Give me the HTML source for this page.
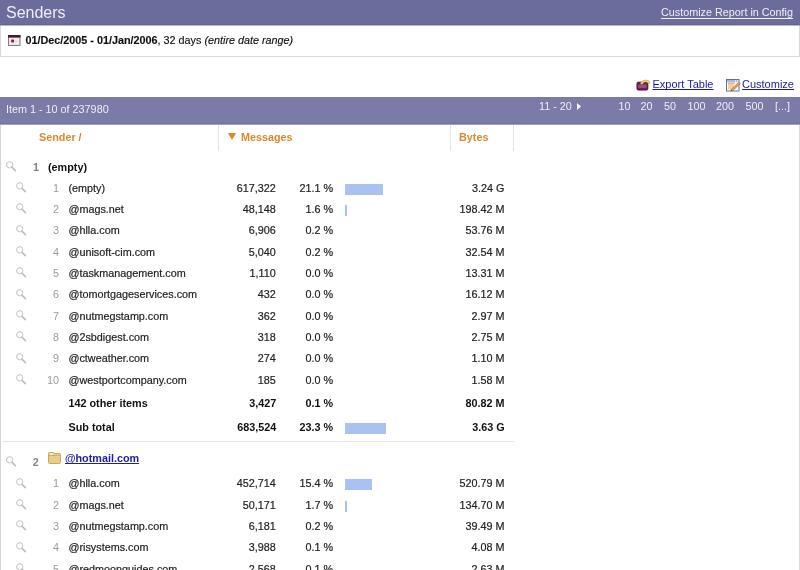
<!DOCTYPE html>
<html><head><meta charset="utf-8"><style>
html,body{-webkit-font-smoothing:antialiased;margin:0;padding:0;background:#fff;width:800px;height:570px;overflow:hidden;position:relative;font-family:"Liberation Sans",sans-serif;font-size:11px}
.t{position:absolute;white-space:nowrap;line-height:13px;font-size:10.8px}
.d{color:#222;-webkit-text-stroke:0.2px #222}
.n{color:#9a9a9a}
.gb{color:#111;font-weight:bold}
.gn{color:#858585;font-weight:bold}
.gl{color:#1c1cb0;font-weight:bold;text-decoration:underline;text-decoration-skip-ink:none}
.mag{position:absolute}
.bar{position:absolute;height:11px;background:#a9c2f2}
#hdr{position:absolute;left:0;top:0;width:800px;height:24px;background:#6c6c9c;border-bottom:1px solid #66668f}
#hdr2{position:absolute;left:0;top:25px;width:800px;height:1px;background:#b8b8cc}
#datebox{position:absolute;left:0;top:26px;width:798px;height:30px;border:1px solid #d8d8e0;border-top:0}
#ibar{position:absolute;left:0;top:97px;width:800px;height:26px;background:#7a7ba6;border-bottom:1px solid #74749c}
#ibar2{position:absolute;left:0;top:124px;width:800px;height:1px;background:#a4a4c0}
.w{color:#eeeef6}
.lnk{color:#1a1aa8;text-decoration:underline;font-size:11px;text-decoration-skip-ink:none}
.hd{color:#d9892a;font-weight:bold}
</style></head><body>
<div id="wrap" style="position:absolute;left:0;top:0;width:800px;height:570px;will-change:transform">
<div id="hdr"></div><div id="hdr2"></div>
<div class="t w" style="left:6px;top:3px;font-size:16px;line-height:20px">Senders</div>
<div class="t w" style="right:7px;top:5.6px;text-decoration:underline;text-underline-offset:2px;text-decoration-skip-ink:none">Customize Report in Config</div>
<div id="datebox"></div>
<svg style="position:absolute;left:8px;top:35px" width="12.5" height="11" viewBox="0 0 12.5 11"><rect x="0.5" y="0.5" width="11.5" height="10" fill="#e4e2e4" stroke="#808080"/><rect x="0" y="0" width="12.5" height="2.6" fill="#4e1434"/><rect x="1.5" y="3.2" width="9.5" height="6.3" fill="#f2f0f2"/><path d="M1.5 6.3 H11 M4.8 3.2 V9.5 M7.8 3.2 V9.5" stroke="#d4d0d4" stroke-width="0.6"/><rect x="3.2" y="4.6" width="2.8" height="2.8" fill="#a01030"/></svg>
<div class="t" style="left:25.5px;top:34.2px;color:#111;-webkit-text-stroke:0.15px #111"><b>01/Dec/2005 - 01/Jan/2006</b>, 32 days <i>(entire date range)</i></div>
<svg style="position:absolute;left:636px;top:78px" width="15" height="13" viewBox="0 0 15 13"><rect x="1" y="4.2" width="10.8" height="7.8" rx="1.2" fill="#6a2050" stroke="#4a0c30" stroke-width="1"/><rect x="2.2" y="6.5" width="8.4" height="3.6" fill="#9a4a7c"/><path d="M5.4 6.2 A4.1 4 0 0 1 13.3 5.6" fill="none" stroke="#d4a040" stroke-width="2.4"/><path d="M5.4 6.2 A4.1 4 0 0 1 13.3 5.6" fill="none" stroke="#f6d27a" stroke-width="1.1"/></svg>
<div class="t lnk" style="left:652.5px;top:77.9px">Export Table</div>
<svg style="position:absolute;left:726px;top:79px" width="15" height="13" viewBox="0 0 15 13"><rect x="0.5" y="0.5" width="12.5" height="11.5" fill="#fdfdff" stroke="#6070a0"/><rect x="1" y="1" width="11.5" height="2.2" fill="#a8b8e0"/><rect x="9" y="1.5" width="1" height="1" fill="#fff"/><rect x="11" y="1.5" width="1" height="1" fill="#fff"/><path d="M2 4.2 H9" stroke="#d07040" stroke-width="0.8"/><rect x="2" y="5" width="6" height="5.5" fill="#f0d498"/><path d="M5.2 10.6 L12.8 3 L14.3 4.4 L6.6 12 Z" fill="#e0a848" stroke="#a06820" stroke-width="0.6"/><path d="M4.6 11.6 L5.2 10.4 L6.6 11.8 Z" fill="#333"/></svg>
<div class="t lnk" style="left:742px;top:77.9px">Customize</div>
<div id="ibar"></div><div id="ibar2"></div>
<div class="t w" style="left:6px;top:102.6px">Item 1 - 10 of 237980</div>
<div class="t w" style="left:539px;top:99.6px">11 - 20</div>
<svg style="position:absolute;left:577px;top:102.5px" width="4" height="7" viewBox="0 0 4 7"><path d="M0 0 L4 3.5 L0 7 Z" fill="#fff"/></svg>
<div class="t w" style="left:618.5px;top:99.6px">10</div>
<div class="t w" style="left:640.5px;top:99.6px">20</div>
<div class="t w" style="left:664px;top:99.6px">50</div>
<div class="t w" style="left:687.5px;top:99.6px">100</div>
<div class="t w" style="left:716px;top:99.6px">200</div>
<div class="t w" style="left:745.5px;top:99.6px">500</div>
<div class="t w" style="left:775px;top:99.6px">[...]</div>
<div style="position:absolute;left:0;top:125px;width:1px;height:445px;background:#d4d4dc"></div><div style="position:absolute;left:799px;top:125px;width:1px;height:445px;background:#dcdce4"></div>
<div style="position:absolute;left:218px;top:125px;width:1px;height:26px;background:#e2e2ea"></div>
<div style="position:absolute;left:450px;top:125px;width:1px;height:26px;background:#e2e2ea"></div>
<div style="position:absolute;left:513px;top:125px;width:1px;height:26px;background:#e2e2ea"></div>
<div class="t hd" style="left:39px;top:130.6px">Sender /</div>
<svg style="position:absolute;left:228px;top:133px" width="8" height="7" viewBox="0 0 8 7"><path d="M0 0 H8 L4 7 Z" fill="#d9892a"/></svg>
<div class="t hd" style="left:241px;top:130.6px">Messages</div>
<div class="t hd" style="left:459px;top:130.6px">Bytes</div>
<svg class="mag" style="left:6px;top:160.8px" width="11" height="11" viewBox="0 0 11 11"><circle cx="3.7" cy="3.8" r="3.1" fill="none" stroke="#c6c6c6" stroke-width="1.05"/><path d="M5.9 6.1 L9.4 9.6" stroke="#bcbcbc" stroke-width="1.5" stroke-linecap="round"/></svg>
<div class="t gn" style="right:761.00px;top:160.90px;">1</div>
<div class="t gb" style="left:48.00px;top:160.90px;">(empty)</div>
<svg class="mag" style="left:16px;top:181.90px" width="11" height="11" viewBox="0 0 11 11"><circle cx="3.7" cy="3.8" r="3.1" fill="none" stroke="#c6c6c6" stroke-width="1.05"/><path d="M5.9 6.1 L9.4 9.6" stroke="#bcbcbc" stroke-width="1.5" stroke-linecap="round"/></svg>
<div class="t n" style="right:741.00px;top:181.60px;">1</div>
<div class="t d" style="left:68.50px;top:181.60px;">(empty)</div>
<div class="t d" style="right:524.20px;top:181.60px;">617,322</div>
<div class="t d" style="right:466.80px;top:181.60px;">21.1 %</div>
<div class="bar" style="left:345px;top:184px;width:38px"></div>
<div class="t d" style="right:295.60px;top:181.60px;">3.24 G</div>
<svg class="mag" style="left:16px;top:203.24px" width="11" height="11" viewBox="0 0 11 11"><circle cx="3.7" cy="3.8" r="3.1" fill="none" stroke="#c6c6c6" stroke-width="1.05"/><path d="M5.9 6.1 L9.4 9.6" stroke="#bcbcbc" stroke-width="1.5" stroke-linecap="round"/></svg>
<div class="t n" style="right:741.00px;top:202.94px;">2</div>
<div class="t d" style="left:68.50px;top:202.94px;">@mags.net</div>
<div class="t d" style="right:524.20px;top:202.94px;">48,148</div>
<div class="t d" style="right:466.80px;top:202.94px;">1.6 %</div>
<div class="bar" style="left:345px;top:205px;width:2px"></div>
<div class="t d" style="right:295.60px;top:202.94px;">198.42 M</div>
<svg class="mag" style="left:16px;top:224.58px" width="11" height="11" viewBox="0 0 11 11"><circle cx="3.7" cy="3.8" r="3.1" fill="none" stroke="#c6c6c6" stroke-width="1.05"/><path d="M5.9 6.1 L9.4 9.6" stroke="#bcbcbc" stroke-width="1.5" stroke-linecap="round"/></svg>
<div class="t n" style="right:741.00px;top:224.28px;">3</div>
<div class="t d" style="left:68.50px;top:224.28px;">@hlla.com</div>
<div class="t d" style="right:524.20px;top:224.28px;">6,906</div>
<div class="t d" style="right:466.80px;top:224.28px;">0.2 %</div>
<div class="t d" style="right:295.60px;top:224.28px;">53.76 M</div>
<svg class="mag" style="left:16px;top:245.92px" width="11" height="11" viewBox="0 0 11 11"><circle cx="3.7" cy="3.8" r="3.1" fill="none" stroke="#c6c6c6" stroke-width="1.05"/><path d="M5.9 6.1 L9.4 9.6" stroke="#bcbcbc" stroke-width="1.5" stroke-linecap="round"/></svg>
<div class="t n" style="right:741.00px;top:245.62px;">4</div>
<div class="t d" style="left:68.50px;top:245.62px;">@unisoft-cim.com</div>
<div class="t d" style="right:524.20px;top:245.62px;">5,040</div>
<div class="t d" style="right:466.80px;top:245.62px;">0.2 %</div>
<div class="t d" style="right:295.60px;top:245.62px;">32.54 M</div>
<svg class="mag" style="left:16px;top:267.26px" width="11" height="11" viewBox="0 0 11 11"><circle cx="3.7" cy="3.8" r="3.1" fill="none" stroke="#c6c6c6" stroke-width="1.05"/><path d="M5.9 6.1 L9.4 9.6" stroke="#bcbcbc" stroke-width="1.5" stroke-linecap="round"/></svg>
<div class="t n" style="right:741.00px;top:266.96px;">5</div>
<div class="t d" style="left:68.50px;top:266.96px;">@taskmanagement.com</div>
<div class="t d" style="right:524.20px;top:266.96px;">1,110</div>
<div class="t d" style="right:466.80px;top:266.96px;">0.0 %</div>
<div class="t d" style="right:295.60px;top:266.96px;">13.31 M</div>
<svg class="mag" style="left:16px;top:288.60px" width="11" height="11" viewBox="0 0 11 11"><circle cx="3.7" cy="3.8" r="3.1" fill="none" stroke="#c6c6c6" stroke-width="1.05"/><path d="M5.9 6.1 L9.4 9.6" stroke="#bcbcbc" stroke-width="1.5" stroke-linecap="round"/></svg>
<div class="t n" style="right:741.00px;top:288.30px;">6</div>
<div class="t d" style="left:68.50px;top:288.30px;">@tomortgageservices.com</div>
<div class="t d" style="right:524.20px;top:288.30px;">432</div>
<div class="t d" style="right:466.80px;top:288.30px;">0.0 %</div>
<div class="t d" style="right:295.60px;top:288.30px;">16.12 M</div>
<svg class="mag" style="left:16px;top:309.94px" width="11" height="11" viewBox="0 0 11 11"><circle cx="3.7" cy="3.8" r="3.1" fill="none" stroke="#c6c6c6" stroke-width="1.05"/><path d="M5.9 6.1 L9.4 9.6" stroke="#bcbcbc" stroke-width="1.5" stroke-linecap="round"/></svg>
<div class="t n" style="right:741.00px;top:309.64px;">7</div>
<div class="t d" style="left:68.50px;top:309.64px;">@nutmegstamp.com</div>
<div class="t d" style="right:524.20px;top:309.64px;">362</div>
<div class="t d" style="right:466.80px;top:309.64px;">0.0 %</div>
<div class="t d" style="right:295.60px;top:309.64px;">2.97 M</div>
<svg class="mag" style="left:16px;top:331.28px" width="11" height="11" viewBox="0 0 11 11"><circle cx="3.7" cy="3.8" r="3.1" fill="none" stroke="#c6c6c6" stroke-width="1.05"/><path d="M5.9 6.1 L9.4 9.6" stroke="#bcbcbc" stroke-width="1.5" stroke-linecap="round"/></svg>
<div class="t n" style="right:741.00px;top:330.98px;">8</div>
<div class="t d" style="left:68.50px;top:330.98px;">@2sbdigest.com</div>
<div class="t d" style="right:524.20px;top:330.98px;">318</div>
<div class="t d" style="right:466.80px;top:330.98px;">0.0 %</div>
<div class="t d" style="right:295.60px;top:330.98px;">2.75 M</div>
<svg class="mag" style="left:16px;top:352.62px" width="11" height="11" viewBox="0 0 11 11"><circle cx="3.7" cy="3.8" r="3.1" fill="none" stroke="#c6c6c6" stroke-width="1.05"/><path d="M5.9 6.1 L9.4 9.6" stroke="#bcbcbc" stroke-width="1.5" stroke-linecap="round"/></svg>
<div class="t n" style="right:741.00px;top:352.32px;">9</div>
<div class="t d" style="left:68.50px;top:352.32px;">@ctweather.com</div>
<div class="t d" style="right:524.20px;top:352.32px;">274</div>
<div class="t d" style="right:466.80px;top:352.32px;">0.0 %</div>
<div class="t d" style="right:295.60px;top:352.32px;">1.10 M</div>
<svg class="mag" style="left:16px;top:373.96px" width="11" height="11" viewBox="0 0 11 11"><circle cx="3.7" cy="3.8" r="3.1" fill="none" stroke="#c6c6c6" stroke-width="1.05"/><path d="M5.9 6.1 L9.4 9.6" stroke="#bcbcbc" stroke-width="1.5" stroke-linecap="round"/></svg>
<div class="t n" style="right:741.00px;top:373.66px;">10</div>
<div class="t d" style="left:68.50px;top:373.66px;">@westportcompany.com</div>
<div class="t d" style="right:524.20px;top:373.66px;">185</div>
<div class="t d" style="right:466.80px;top:373.66px;">0.0 %</div>
<div class="t d" style="right:295.60px;top:373.66px;">1.58 M</div>
<div class="t gb" style="left:68.50px;top:397.00px;">142 other items</div>
<div class="t gb" style="right:523.80px;top:397.00px;">3,427</div>
<div class="t gb" style="right:466.80px;top:397.00px;">0.1 %</div>
<div class="t gb" style="right:295.40px;top:397.00px;">80.82 M</div>
<div class="t gb" style="left:68.50px;top:421.30px;">Sub total</div>
<div class="t gb" style="right:523.80px;top:421.30px;">683,524</div>
<div class="t gb" style="right:466.80px;top:421.30px;">23.3 %</div>
<div class="bar" style="left:345px;top:423px;width:41px"></div>
<div class="t gb" style="right:295.40px;top:421.30px;">3.63 G</div>
<div style="position:absolute;left:2px;top:441px;width:512px;height:1px;background:#e6e6ea"></div>
<svg class="mag" style="left:6px;top:455.8px" width="11" height="11" viewBox="0 0 11 11"><circle cx="3.7" cy="3.8" r="3.1" fill="none" stroke="#c6c6c6" stroke-width="1.05"/><path d="M5.9 6.1 L9.4 9.6" stroke="#bcbcbc" stroke-width="1.5" stroke-linecap="round"/></svg>
<div class="t gn" style="right:761.30px;top:456.10px;">2</div>
<svg style="position:absolute;left:48px;top:452px" width="13" height="12" viewBox="0 0 13 12"><path d="M0.5 1.5 Q0.5 0.5 1.5 0.5 H5.5 L6.5 1.5 H11.5 Q12.5 1.5 12.5 2.5 V10.5 Q12.5 11.5 11.5 11.5 H1.5 Q0.5 11.5 0.5 10.5 Z" fill="#e8cc88" stroke="#c9a860" stroke-width="1"/><path d="M1 3.5 H12" stroke="#c9a860" stroke-width="0.8"/><rect x="1.5" y="1.3" width="3.5" height="1.5" fill="#fbeec8"/></svg>
<div class="t gl" style="left:65.00px;top:451.70px;">@hotmail.com</div>
<svg class="mag" style="left:16px;top:477.60px" width="11" height="11" viewBox="0 0 11 11"><circle cx="3.7" cy="3.8" r="3.1" fill="none" stroke="#c6c6c6" stroke-width="1.05"/><path d="M5.9 6.1 L9.4 9.6" stroke="#bcbcbc" stroke-width="1.5" stroke-linecap="round"/></svg>
<div class="t n" style="right:741.00px;top:477.30px;">1</div>
<div class="t d" style="left:68.50px;top:477.30px;">@hlla.com</div>
<div class="t d" style="right:524.20px;top:477.30px;">452,714</div>
<div class="t d" style="right:466.80px;top:477.30px;">15.4 %</div>
<div class="bar" style="left:345px;top:479px;width:27px"></div>
<div class="t d" style="right:295.60px;top:477.30px;">520.79 M</div>
<svg class="mag" style="left:16px;top:498.94px" width="11" height="11" viewBox="0 0 11 11"><circle cx="3.7" cy="3.8" r="3.1" fill="none" stroke="#c6c6c6" stroke-width="1.05"/><path d="M5.9 6.1 L9.4 9.6" stroke="#bcbcbc" stroke-width="1.5" stroke-linecap="round"/></svg>
<div class="t n" style="right:741.00px;top:498.64px;">2</div>
<div class="t d" style="left:68.50px;top:498.64px;">@mags.net</div>
<div class="t d" style="right:524.20px;top:498.64px;">50,171</div>
<div class="t d" style="right:466.80px;top:498.64px;">1.7 %</div>
<div class="bar" style="left:345px;top:501px;width:2px"></div>
<div class="t d" style="right:295.60px;top:498.64px;">134.70 M</div>
<svg class="mag" style="left:16px;top:520.28px" width="11" height="11" viewBox="0 0 11 11"><circle cx="3.7" cy="3.8" r="3.1" fill="none" stroke="#c6c6c6" stroke-width="1.05"/><path d="M5.9 6.1 L9.4 9.6" stroke="#bcbcbc" stroke-width="1.5" stroke-linecap="round"/></svg>
<div class="t n" style="right:741.00px;top:519.98px;">3</div>
<div class="t d" style="left:68.50px;top:519.98px;">@nutmegstamp.com</div>
<div class="t d" style="right:524.20px;top:519.98px;">6,181</div>
<div class="t d" style="right:466.80px;top:519.98px;">0.2 %</div>
<div class="t d" style="right:295.60px;top:519.98px;">39.49 M</div>
<svg class="mag" style="left:16px;top:541.62px" width="11" height="11" viewBox="0 0 11 11"><circle cx="3.7" cy="3.8" r="3.1" fill="none" stroke="#c6c6c6" stroke-width="1.05"/><path d="M5.9 6.1 L9.4 9.6" stroke="#bcbcbc" stroke-width="1.5" stroke-linecap="round"/></svg>
<div class="t n" style="right:741.00px;top:541.32px;">4</div>
<div class="t d" style="left:68.50px;top:541.32px;">@risystems.com</div>
<div class="t d" style="right:524.20px;top:541.32px;">3,988</div>
<div class="t d" style="right:466.80px;top:541.32px;">0.1 %</div>
<div class="t d" style="right:295.60px;top:541.32px;">4.08 M</div>
<svg class="mag" style="left:16px;top:562.96px" width="11" height="11" viewBox="0 0 11 11"><circle cx="3.7" cy="3.8" r="3.1" fill="none" stroke="#c6c6c6" stroke-width="1.05"/><path d="M5.9 6.1 L9.4 9.6" stroke="#bcbcbc" stroke-width="1.5" stroke-linecap="round"/></svg>
<div class="t n" style="right:741.00px;top:562.66px;">5</div>
<div class="t d" style="left:68.50px;top:562.66px;">@redmoonguides.com</div>
<div class="t d" style="right:524.20px;top:562.66px;">2,568</div>
<div class="t d" style="right:466.80px;top:562.66px;">0.1 %</div>
<div class="t d" style="right:295.60px;top:562.66px;">2.63 M</div>
</div>
</body></html>
